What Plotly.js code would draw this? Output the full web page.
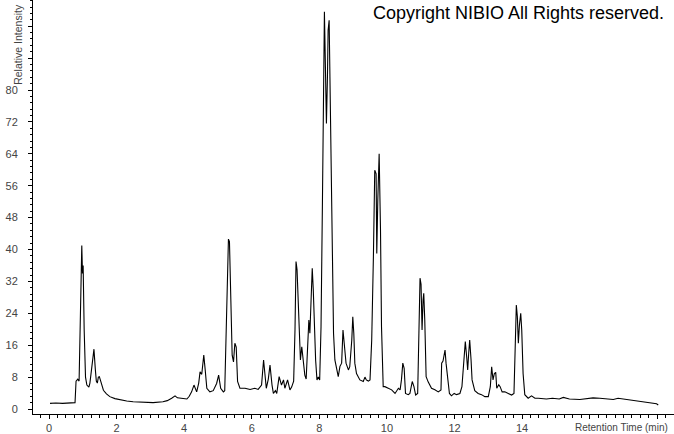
<!DOCTYPE html>
<html>
<head>
<meta charset="utf-8">
<script src="https://cdn.plot.ly/plotly-3.0.1.min.js"></script>
<style>html,body{margin:0;padding:0;background:#fff;}#chart{width:674px;height:434px;}</style>
</head>
<body>
<div id="chart"></div>
<script>
// Retention time (min)
const retentionTime = [
 0.03,0.2,0.4,0.6,0.77,0.80,0.85,0.89,0.92,0.95,0.97,0.99,1.01,1.04,1.08,1.12,1.18,1.21,1.26,1.30,
 1.33,1.37,1.40,1.43,1.46,1.49,1.53,1.57,1.61,1.70,1.80,1.95,2.1,2.3,2.49,2.8,3.08,3.37,3.5,3.63,
 3.73,3.80,3.88,3.93,4.08,4.15,4.22,4.29,4.37,4.43,4.47,4.52,4.58,4.62,4.67,4.76,4.86,4.96,5.02,5.08,
 5.16,5.20,5.24,5.28,5.31,5.34,5.38,5.42,5.46,5.50,5.54,5.58,5.65,5.80,5.95,6.09,6.19,6.29,6.35,6.39,
 6.43,6.49,6.54,6.60,6.64,6.70,6.74,6.81,6.88,6.94,6.98,7.06,7.13,7.18,7.24,7.28,7.31,7.34,7.38,7.42,
 7.44,7.48,7.52,7.57,7.61,7.65,7.69,7.72,7.75,7.79,7.82,7.85,7.89,7.93,7.97,8.01,8.05,8.09,8.12,8.15,
 8.18,8.21,8.24,8.26,8.29,8.32,8.35,8.38,8.42,8.46,8.51,8.56,8.61,8.66,8.70,8.73,8.76,8.79,8.86,8.90,
 8.96,8.99,9.02,9.05,9.10,9.20,9.30,9.35,9.39,9.45,9.50,9.55,9.60,9.64,9.68,9.70,9.73,9.77,9.81,9.84,
 9.89,9.94,10.04,10.14,10.24,10.34,10.39,10.43,10.47,10.51,10.55,10.63,10.68,10.75,10.80,10.85,10.91,10.95,10.98,11.01,
 11.04,11.07,11.09,11.12,11.16,11.22,11.32,11.42,11.52,11.60,11.62,11.66,11.69,11.72,11.75,11.79,11.85,11.91,11.99,12.06,
 12.16,12.22,12.29,12.32,12.36,12.39,12.42,12.45,12.49,12.52,12.60,12.70,12.80,12.90,13.00,13.06,13.10,13.14,13.18,13.22,
 13.25,13.31,13.35,13.41,13.49,13.59,13.69,13.76,13.79,13.83,13.86,13.89,13.92,13.96,13.99,14.03,14.08,14.18,14.28,14.38,
 14.48,14.72,14.9,15.1,15.22,15.4,15.71,15.9,16.10,16.30,16.5,16.70,16.84,17.09,17.3,17.49,17.78,17.98,18.03
];
// Relative intensity
const relativeIntensity = [
 1.4,1.5,1.4,1.5,1.6,7.0,7.5,7.0,20,38,41,34,36,20,8,6,5.5,6.5,10,13,
 15,10,7,6.5,8,8.1,7,5.5,4.7,3.8,3.1,2.6,2.3,2.0,1.8,1.7,1.6,1.8,2.1,2.7,
 3.3,2.8,2.7,2.5,2.5,3.2,4.3,6.0,4.3,6.5,9.3,8.7,13.5,10,5.2,4.3,4.6,6.4,8.5,5.2,
 4.3,4.6,18.5,33.6,42.6,42,29.4,13.5,11.8,16.5,15.5,6.9,5.2,5.2,4.9,5.2,4.9,6.0,12.3,9.4,
 5.2,7.5,11,6.0,3.9,4.6,3.9,8.1,6,7.3,5.2,7.3,4.8,5.5,7,20,37,35,24,14,
 12.3,15.6,12.3,8.5,7.5,14.8,22.3,19,25,35.3,30,20.6,12.3,7.3,8,7.3,20.6,50.7,87.5,99.6,
 85.8,71.6,83.3,95,97.5,77.4,55.7,31.5,19,12.3,9.8,8.1,10.7,11.5,19.8,17,14,11.5,9.8,10.6,
 17.3,23.1,19,11.5,8.9,7.3,6.9,8,7.3,7,7.3,17.3,38.2,59.9,59,39,52.4,64,44.9,20.6,
 5.6,5.6,5.2,4.8,3.9,5.2,4.8,7.3,11.5,10.2,3.9,3.6,3.9,6.9,5.6,3.5,3.9,18.1,32.8,31.3,
 19.8,27.3,29,22.4,8.1,6.8,5.2,4.8,4.3,4.8,11.5,12,13.5,14.8,11.5,8.9,3.9,3.3,3.9,3.6,
 3.9,5.6,13.1,16.9,13.1,9.8,14,17.3,12.3,7.3,4.6,3.9,3.6,3.1,3.1,5.6,10.6,7.3,8.9,9.2,
 5.2,6.1,5.6,4.3,4.3,3.9,3.5,3.9,14,26.1,23.2,16.5,20.9,24,19.8,8.9,3.6,2.7,3.3,2.7,
 2.7,2.5,2.7,2.5,2.9,2.5,2.4,2.6,2.8,2.7,2.5,2.4,2.7,2.4,2.2,2.0,1.7,1.3,1.0
];
const xTickVals = [0,2,4,6,8,10,12,14,16,18];
const xTickText = ['0','2','4','6','8','10','12','14','',''];
const yTickVals = [0,8,16,24,32,40,48,56,64,72,80,88,96];
const yTickText = ['0','8','16','24','32','40','48','56','64','72','80','',''];

const tickFont = {family:'"Liberation Sans", Arial, sans-serif', size:11, color:'#444'};

const trace = {
  x: retentionTime, y: relativeIntensity, type:'scatter', mode:'lines',
  line:{color:'#000', width:1.1}, hoverinfo:'skip'
};

const layout = {
  width:674, height:434,
  margin:{l:33, r:0, t:0, b:20, pad:0},
  paper_bgcolor:'#fff', plot_bgcolor:'#fff',
  showlegend:false,
  xaxis:{
    range:[-0.474, 18.496], showgrid:false, zeroline:false,
    showline:true, linecolor:'#000', linewidth:1,
    tickmode:'array', tickvals:xTickVals, ticktext:xTickText,
    ticks:'outside', ticklen:4, tickcolor:'#000', tickwidth:1,
    tickfont:tickFont,
    minor:{tickmode:'linear', tick0:0, dtick:0.25, ticks:'outside', ticklen:3, tickcolor:'#000', showgrid:false}
  },
  yaxis:{
    range:[-1.254, 102.57], showgrid:false, zeroline:false,
    showline:true, linecolor:'#000', linewidth:1,
    tickmode:'array', tickvals:yTickVals, ticktext:yTickText,
    ticks:'outside', ticklen:4, tickcolor:'#000', tickwidth:1,
    ticklabelstandoff:8,
    tickfont:tickFont,
    minor:{tickmode:'linear', tick0:0, dtick:1.6, ticks:'outside', ticklen:2, tickcolor:'#000', showgrid:false}
  },
  annotations:[
    {text:'Copyright NIBIO All Rights reserved.', xref:'paper', yref:'paper',
     x:0.9875, y:0.9686, xanchor:'right', yanchor:'middle', showarrow:false,
     font:{family:'"Liberation Sans", Arial, sans-serif', size:18, color:'#000'}},
    {text:'Retention Time (min)', xref:'paper', yref:'paper',
     x:0.9938, y:-0.0338, xanchor:'right', yanchor:'middle', showarrow:false,
     font:{family:'"Liberation Sans", Arial, sans-serif', size:10, color:'#444'}},
    {text:'Relative Intensity', xref:'paper', yref:'paper', textangle:-90,
     x:-0.0226, y:0.893, xanchor:'center', yanchor:'middle', showarrow:false,
     font:{family:'"Liberation Sans", Arial, sans-serif', size:10.5, color:'#444'}}
  ]
};

Plotly.newPlot('chart', [trace], layout, {staticPlot:true, displayModeBar:false});
</script>
</body>
</html>
